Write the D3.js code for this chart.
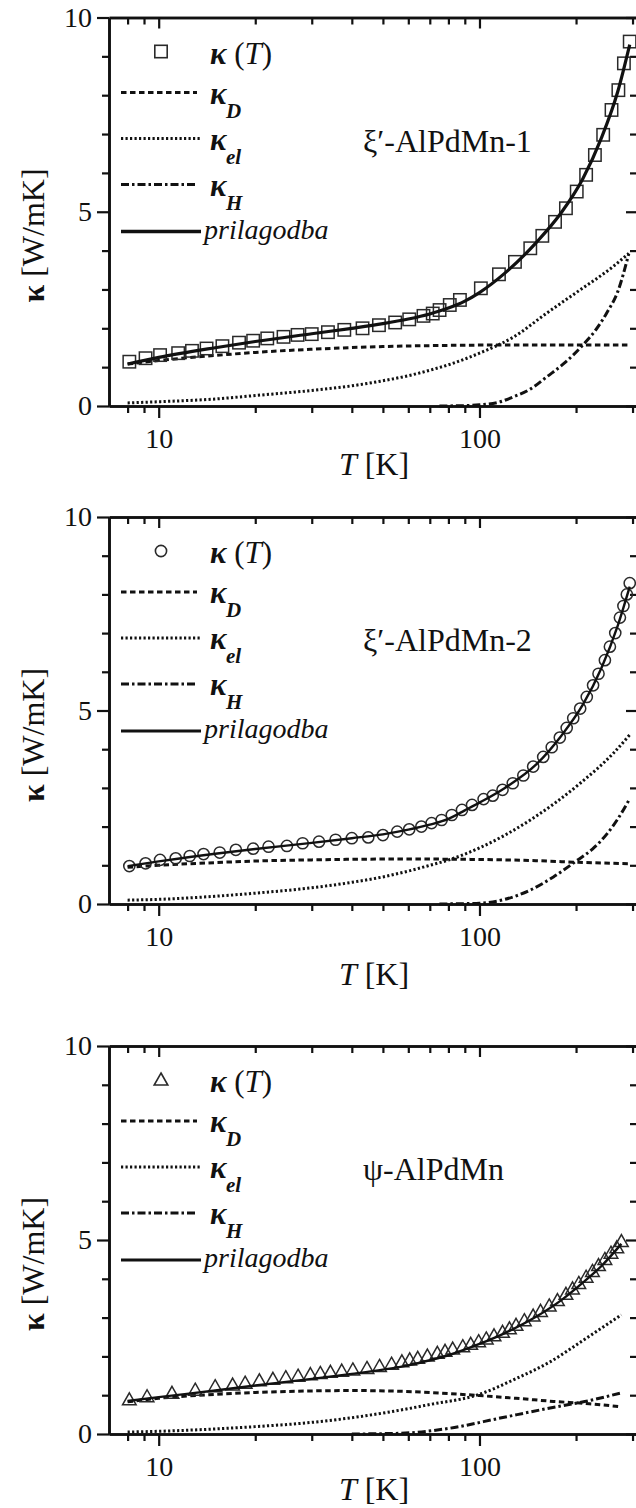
<!DOCTYPE html>
<html><head><meta charset="utf-8">
<script src="https://cdn.jsdelivr.net/npm/d3@7"></script>
<style>
body{margin:0;background:#fff}
svg{display:block}
text{font-family:"Liberation Serif","Times New Roman",serif;fill:#111}
</style>
</head><body>
<svg id="chart" width="636" height="1508"></svg>
<script>
// ---------- data ----------
const sampleNames = ["ξ′-AlPdMn-1", "ξ′-AlPdMn-2", "ψ-AlPdMn"];
const markerTypes = ["square", "circle", "triangle"];
const xMajorTicks = [10, 100];
const xMinorTicks = [8, 9, 20, 30, 40, 50, 60, 70, 80, 90, 200, 300];
const yMajorTicks = [0, 5, 10];
const yMinorTicks = [1, 2, 3, 4, 6, 7, 8, 9];
const legendLabels = ["κ (T)", "κD", "κel", "κH", "prilagodba"];

// panel 1: ξ'-AlPdMn-1
const T1 = [8.1, 9.1, 10.1, 11.5, 12.7, 14.1, 15.8, 17.8, 19.7, 21.8, 24.5, 27.1, 30.0, 33.7, 37.9, 43.2, 48.6, 54.6, 60.4, 66.9, 71.5, 75.1, 80.8, 86.9, 101, 115, 129, 144, 157, 172, 186, 201, 215, 229, 243, 258, 271, 282, 294];
const K1 = [1.14, 1.23, 1.31, 1.36, 1.42, 1.48, 1.54, 1.63, 1.68, 1.74, 1.78, 1.83, 1.85, 1.90, 1.96, 2.00, 2.08, 2.15, 2.23, 2.32, 2.38, 2.47, 2.60, 2.73, 3.03, 3.39, 3.71, 4.06, 4.38, 4.74, 5.09, 5.52, 5.95, 6.46, 6.98, 7.62, 8.13, 8.82, 9.38];
const fitT1 = [8, 10, 15, 20, 30, 40, 50, 60, 70, 80, 90, 100, 120, 150, 180, 210, 240, 270, 294];
const fitK1 = [1.08, 1.25, 1.5, 1.66, 1.86, 2.0, 2.12, 2.24, 2.37, 2.52, 2.7, 2.92, 3.42, 4.2, 4.98, 5.85, 6.9, 8.1, 9.3];
const dT1 = [8, 10, 15, 20, 30, 50, 80, 120, 200, 294];
const dK1 = [1.08, 1.17, 1.3, 1.38, 1.46, 1.53, 1.56, 1.57, 1.57, 1.57];
const elT1 = [8, 10, 15, 20, 30, 40, 50, 60, 70, 80, 100, 128, 162, 206, 261, 292];
const elK1 = [0.08, 0.11, 0.18, 0.27, 0.4, 0.52, 0.65, 0.78, 0.92, 1.06, 1.36, 1.78, 2.39, 2.99, 3.59, 3.93];
const hT1 = [75, 90, 100, 115, 128, 145, 162, 185, 210, 230, 249, 270, 292];
const hK1 = [0, 0.01, 0.03, 0.1, 0.24, 0.45, 0.75, 1.12, 1.57, 1.95, 2.39, 2.95, 3.92];

// panel 2: ξ'-AlPdMn-2
const T2 = [8.1, 9.1, 10.1, 11.3, 12.5, 13.8, 15.5, 17.4, 19.7, 22.0, 25.1, 28.1, 31.6, 35.6, 40.0, 45.0, 50.0, 55.4, 60.4, 65.9, 70.9, 76.2, 82.0, 88.2, 94.8, 103, 110, 118, 127, 137, 147, 158, 168, 178, 187, 196, 206, 216, 226, 235, 246, 255, 265, 274, 281, 288, 294];
const K2 = [0.98, 1.05, 1.14, 1.18, 1.24, 1.29, 1.33, 1.40, 1.43, 1.48, 1.50, 1.57, 1.61, 1.66, 1.70, 1.72, 1.78, 1.87, 1.93, 2.0, 2.09, 2.17, 2.30, 2.43, 2.56, 2.71, 2.80, 2.95, 3.12, 3.32, 3.55, 3.80, 4.05, 4.30, 4.55, 4.80, 5.05, 5.35, 5.65, 5.95, 6.30, 6.65, 7.0, 7.4, 7.7, 8.0, 8.29];
const fitT2 = [8, 10, 15, 20, 30, 40, 50, 60, 70, 80, 90, 100, 120, 150, 180, 210, 240, 270, 294];
const fitK2 = [0.98, 1.1, 1.3, 1.42, 1.58, 1.7, 1.8, 1.92, 2.05, 2.2, 2.42, 2.62, 3.0, 3.6, 4.35, 5.15, 6.1, 7.2, 8.2];
const dT2 = [8, 10, 15, 20, 30, 50, 70, 100, 150, 200, 294];
const dK2 = [0.95, 1.0, 1.07, 1.11, 1.14, 1.16, 1.16, 1.15, 1.12, 1.08, 1.04];
const elT2 = [8, 10, 15, 20, 30, 40, 50, 60, 70, 81, 100, 144, 206, 261, 294];
const elK2 = [0.1, 0.12, 0.2, 0.28, 0.42, 0.56, 0.7, 0.85, 1.0, 1.15, 1.45, 2.17, 3.12, 3.89, 4.37];
const hT2 = [75, 90, 100, 120, 144, 170, 201, 225, 249, 270, 294];
const hK2 = [0, 0.01, 0.02, 0.12, 0.36, 0.7, 1.12, 1.42, 1.8, 2.2, 2.72];

// panel 3: ψ-AlPdMn
const T3 = [8.1, 9.2, 11.0, 13.0, 15.0, 17.0, 18.6, 20.6, 22.7, 24.9, 27.2, 29.7, 31.9, 34.3, 37.2, 40.3, 44.6, 48.8, 53.2, 57.3, 60.6, 64.2, 68.8, 73.9, 78.1, 82.5, 88.7, 93.9, 99.4, 105, 111, 118, 124, 130, 138, 147, 155, 165, 175, 186, 195, 204, 215, 225, 235, 246, 257, 268, 277];
const K3 = [0.88, 0.96, 1.05, 1.13, 1.22, 1.26, 1.31, 1.37, 1.41, 1.45, 1.49, 1.53, 1.56, 1.59, 1.62, 1.65, 1.69, 1.74, 1.80, 1.86, 1.91, 1.95, 2.01, 2.08, 2.13, 2.19, 2.25, 2.31, 2.38, 2.45, 2.53, 2.62, 2.71, 2.80, 2.92, 3.04, 3.16, 3.30, 3.44, 3.60, 3.74, 3.88, 4.04, 4.19, 4.34, 4.50, 4.66, 4.80, 4.96];
const fitT3 = [8, 10, 15, 20, 30, 40, 50, 60, 70, 80, 100, 120, 150, 180, 210, 240, 277];
const fitK3 = [0.85, 0.95, 1.12, 1.25, 1.42, 1.55, 1.66, 1.77, 1.9, 2.03, 2.32, 2.6, 3.02, 3.45, 3.9, 4.33, 4.9];
const dT3 = [8, 10, 15, 20, 30, 40, 57, 70, 100, 130, 170, 220, 277];
const dK3 = [0.83, 0.92, 1.02, 1.07, 1.11, 1.12, 1.1, 1.07, 0.99, 0.92, 0.84, 0.78, 0.7];
const elT3 = [8, 10, 15, 20, 30, 40, 57, 70, 98, 131, 166, 211, 277];
const elK3 = [0.05, 0.07, 0.13, 0.19, 0.3, 0.42, 0.62, 0.76, 1.0, 1.44, 1.86, 2.42, 3.07];
const hT3 = [40, 57, 81, 116, 166, 211, 274];
const hK3 = [0, 0.02, 0.15, 0.41, 0.67, 0.83, 1.05];

// ---------- layout ----------
const panels = [
  {top: 17.5, bottom: 406, xTitleDy: 69, fitW: 3.2,
   data: [T1, K1], fit: [fitT1, fitK1], kd: [dT1, dK1], kel: [elT1, elK1], kh: [hT1, hK1]},
  {top: 517, bottom: 904, xTitleDy: 81, fitW: 2.4,
   data: [T2, K2], fit: [fitT2, fitK2], kd: [dT2, dK2], kel: [elT2, elK2], kh: [hT2, hK2]},
  {top: 1046, bottom: 1434, xTitleDy: 66, fitW: 2.4,
   data: [T3, K3], fit: [fitT3, fitK3], kd: [dT3, dK3], kel: [elT3, elK3], kh: [hT3, hK3]}
];
const LEFT = 109, RIGHT = 638;
const INK = "#111";
const styles = {
  kd:  {w: 3.0, dash: "5.5,3.5"},
  kel: {w: 3.0, dash: "2.2,2.3"},
  kh:  {w: 3.0, dash: "8,3,2.5,3"}
};

const svg = d3.select("#chart");
const x = d3.scaleLog().domain([7, 312]).range([LEFT, RIGHT]);

function marker(g, type, cx, cy) {
  if (type === "square") {
    g.append("rect").attr("x", cx - 6.2).attr("y", cy - 6.2).attr("width", 12.4).attr("height", 12.4);
  } else if (type === "circle") {
    g.append("circle").attr("cx", cx).attr("cy", cy).attr("r", 5.6);
  } else {
    g.append("path").attr("d", `M${cx},${cy - 7}L${cx + 6.8},${cy + 5}L${cx - 6.8},${cy + 5}Z`);
  }
}

panels.forEach((p, i) => {
  const y = d3.scaleLinear().domain([0, 10]).range([p.bottom, p.top]);
  const g = svg.append("g");

  const styleAxis = a => {
    a.selectAll("path.domain").attr("stroke", INK).attr("stroke-width", 2.6);
    a.selectAll(".tick line").attr("stroke", INK).attr("stroke-width", 2.2);
    a.selectAll(".tick text").attr("fill", INK).style("font-size", "28px")
      .style("font-family", '"Liberation Serif","Times New Roman",serif');
  };
  // bottom
  g.append("g").attr("transform", `translate(0,${p.bottom})`)
    .call(d3.axisBottom(x).tickValues(xMinorTicks).tickSize(7).tickSizeOuter(0).tickFormat(""))
    .call(styleAxis);
  g.append("g").attr("transform", `translate(0,${p.bottom})`)
    .call(d3.axisBottom(x).tickValues(xMajorTicks).tickSize(12).tickSizeOuter(0).tickPadding(10).tickFormat(d3.format("d")))
    .call(styleAxis);
  // top (inward)
  g.append("g").attr("transform", `translate(0,${p.top})`)
    .call(d3.axisTop(x).tickValues(xMinorTicks).tickSize(-7).tickSizeOuter(0).tickFormat(""))
    .call(styleAxis);
  g.append("g").attr("transform", `translate(0,${p.top})`)
    .call(d3.axisTop(x).tickValues(xMajorTicks).tickSize(-11).tickSizeOuter(0).tickFormat(""))
    .call(styleAxis);
  // left
  g.append("g").attr("transform", `translate(${LEFT},0)`)
    .call(d3.axisLeft(y).tickValues(yMinorTicks).tickSize(7).tickSizeOuter(0).tickFormat(""))
    .call(styleAxis);
  g.append("g").attr("transform", `translate(${LEFT},0)`)
    .call(d3.axisLeft(y).tickValues(yMajorTicks).tickSize(12).tickSizeOuter(0).tickPadding(5).tickFormat(d3.format("d")))
    .call(styleAxis);
  // right (inward)
  g.append("g").attr("transform", `translate(${RIGHT},0)`)
    .call(d3.axisRight(y).tickValues(yMinorTicks).tickSize(-8).tickSizeOuter(0).tickFormat(""))
    .call(styleAxis);
  g.append("g").attr("transform", `translate(${RIGHT},0)`)
    .call(d3.axisRight(y).tickValues(yMajorTicks).tickSize(-12).tickSizeOuter(0).tickFormat(""))
    .call(styleAxis);

  // axis titles
  const yt = g.append("text")
    .attr("transform", `translate(44,${p.top + 218}) rotate(-90)`)
    .attr("text-anchor", "middle").style("font-size", "32px");
  yt.append("tspan").attr("font-weight", "bold").text("κ");
  yt.append("tspan").text(" [W/mK]");
  const xt = g.append("text")
    .attr("x", 374).attr("y", p.bottom + p.xTitleDy)
    .attr("text-anchor", "middle").style("font-size", "32px");
  xt.append("tspan").attr("font-style", "italic").text("T");
  xt.append("tspan").text(" [K]");

  // curves
  const line = d3.line().x(d => x(d[0])).y(d => y(d[1])).curve(d3.curveMonotoneX);
  const curves = g.append("g").attr("fill", "none").attr("stroke", INK);
  ["kd", "kel", "kh"].forEach(k => {
    curves.append("path").datum(d3.zip(p[k][0], p[k][1])).attr("d", line)
      .attr("stroke-width", styles[k].w).attr("stroke-dasharray", styles[k].dash);
  });

  // data points
  const pts = g.append("g").attr("fill", "none").attr("stroke", "#2a2a2a").attr("stroke-width", 1.5);
  d3.zip(p.data[0], p.data[1]).forEach(d => marker(pts, markerTypes[i], x(d[0]), y(d[1])));

  // fit
  const fitG = g.append("g").attr("fill", "none").attr("stroke", INK);
  fitG.append("path").datum(d3.zip(p.fit[0], p.fit[1])).attr("d", line)
    .attr("stroke-width", p.fitW);

  // legend
  const lg = g.append("g").attr("transform", `translate(0,${p.top})`);
  const lm = lg.append("g").attr("fill", "none").attr("stroke", "#2a2a2a").attr("stroke-width", 1.6);
  marker(lm, markerTypes[i], 161, 34);
  const t0 = lg.append("text").attr("x", 210).attr("y", 46).style("font-size", "31px");
  t0.append("tspan").attr("font-weight", "bold").attr("font-style", "italic").text(legendLabels[0].slice(0, 1));
  t0.append("tspan").text(" (");
  t0.append("tspan").attr("font-style", "italic").text("T");
  t0.append("tspan").text(")");

  const rows = [{k: "kd", yy: 75, sub: "D", x2: 197}, {k: "kel", yy: 121, sub: "el", x2: 201}, {k: "kh", yy: 167, sub: "H", x2: 197}];
  rows.forEach(r => {
    lg.append("line").attr("x1", 121).attr("x2", r.x2).attr("y1", r.yy).attr("y2", r.yy)
      .attr("stroke", INK).attr("stroke-width", styles[r.k].w).attr("stroke-dasharray", styles[r.k].dash);
    lg.append("text").attr("x", 210).attr("y", r.yy + 11).style("font-size", "31px")
      .attr("font-weight", "bold").attr("font-style", "italic").text("κ");
    lg.append("text").attr("x", 226).attr("y", r.yy + 25).style("font-size", "21px")
      .attr("font-weight", "bold").attr("font-style", "italic").text(r.sub);
  });
  lg.append("line").attr("x1", 121).attr("x2", 201).attr("y1", 214).attr("y2", 214)
    .attr("stroke", INK).attr("stroke-width", p.fitW + 0.4);
  lg.append("text").attr("x", 204).attr("y", 221).style("font-size", "28px")
    .attr("font-style", "italic").text(legendLabels[4]);

  // sample name
  g.append("text").attr("x", 363).attr("y", p.top + 134).style("font-size", "32px").text(sampleNames[i]);
});
</script>
</body></html>
